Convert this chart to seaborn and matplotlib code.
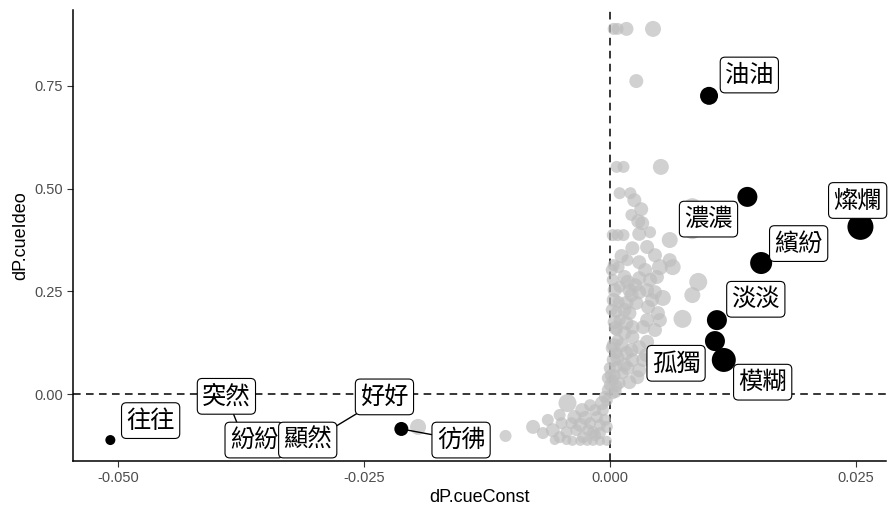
import numpy as np
import pandas as pd
import matplotlib
matplotlib.use("Agg")
import matplotlib.pyplot as plt
import seaborn as sns
from matplotlib import font_manager

# --- highlighted words -------------------------------------------------------
words = ["油油", "濃濃", "燦爛", "繽紛", "淡淡", "孤獨", "模糊",
         "往往", "突然", "紛紛", "顯然", "好好", "彷彿"]
word_const = [0.0101, 0.0140, 0.0255, 0.0154, 0.0109, 0.0107, 0.0116,
              -0.0508, -0.0373, -0.0366, -0.0303, -0.0297, -0.0212]
word_ideo = [0.726, 0.480, 0.407, 0.319, 0.180, 0.129, 0.083,
             -0.112, -0.107, -0.112, -0.112, -0.105, -0.085]
word_freq = [81, 100, 169, 121, 100, 100, 144,
             25, 36, 25, 25, 36, 49]

# --- remaining words ---------------------------------------------------------
other_const = [
    0.0004, 0.0008, 0.0017, 0.0044, 0.0027, 0.0007, 0.0014, 0.0052,
    0.0010, 0.0021, 0.0025, 0.0032, 0.0029, 0.0033, 0.0003, 0.0008,
    0.0014, 0.0030, 0.0061, 0.0084, 0.0084, 0.0023, 0.0012, 0.0038,
    0.0030, 0.0051, 0.0064, 0.0061, 0.0009, 0.0015, 0.0030, 0.0048,
    0.0010, 0.0020, 0.0038, 0.0090, 0.0084, 0.0054, 0.0009, 0.0017,
    0.0027, 0.0039, 0.0049, 0.0074, 0.0007, 0.0010, 0.0017, 0.0023,
    0.0034, 0.0038, 0.0007, 0.0015, 0.0008, 0.0023, 0.0038, 0.0030,
    0.0007, 0.0017, 0.0023, 0.0034, 0.0007, 0.0013, 0.0028, 0.0003,
    0.0010, 0.0003, -0.0003, -0.0002, -0.0005, -0.0008, -0.0007, -0.0013,
    -0.0020, -0.0028, -0.0025, -0.0043, -0.0036, -0.0039, -0.0049, -0.0034,
    -0.0044, -0.0058, -0.0051, -0.0068, -0.0078, -0.0056, -0.0044, -0.0038,
    -0.0030, -0.0023, -0.0017, -0.0010, -0.0003, -0.0017, -0.0010, -0.0005,
    -0.0003, -0.0106, -0.0195, -0.0015, 0.0000, 0.0001, 0.0004, 0.0004,
    0.0005, 0.0004, 0.0003, 0.0004, 0.0018, 0.0012, 0.0020, 0.0026,
    0.0043, 0.0046, 0.0036, 0.0018, 0.0041, 0.0022, -0.0030, -0.0020,
    0.0002, 0.0005, 0.0002, 0.0006, 0.0002, 0.0008, 0.0000, 0.0015,
    0.0022, 0.0018, 0.0030, 0.0041, 0.0046, 0.0022, 0.0015, 0.0030,
    0.0037, 0.0046, 0.0051, 0.0005, 0.0006, 0.0007, 0.0020, -0.0002,
    -0.0010, -0.0015, -0.0022, -0.0027, -0.0051, -0.0063,
]
other_ideo = [
    0.889, 0.889, 0.889, 0.889, 0.762, 0.553, 0.553, 0.553,
    0.489, 0.489, 0.472, 0.450, 0.421, 0.416, 0.387, 0.387,
    0.387, 0.390, 0.375, 0.455, 0.399, 0.355, 0.336, 0.358,
    0.321, 0.309, 0.309, 0.326, 0.309, 0.285, 0.282, 0.285,
    0.261, 0.253, 0.253, 0.273, 0.241, 0.234, 0.224, 0.222,
    0.222, 0.212, 0.197, 0.183, 0.200, 0.180, 0.173, 0.163,
    0.163, 0.180, 0.156, 0.149, 0.131, 0.139, 0.127, 0.114,
    0.100, 0.100, 0.083, 0.083, 0.066, 0.051, 0.041, 0.034,
    0.027, 0.002, -0.015, 0.010, -0.007, -0.022, -0.039, -0.056,
    -0.071, -0.039, -0.058, -0.022, -0.056, -0.071, -0.071, -0.088,
    -0.093, -0.088, -0.105, -0.095, -0.080, -0.112, -0.112, -0.114,
    -0.114, -0.114, -0.114, -0.114, -0.114, -0.093, -0.095, -0.063,
    -0.080, -0.102, -0.080, -0.039, 0.022, 0.046, 0.083, 0.119,
    0.175, 0.229, 0.278, 0.314, 0.063, 0.119, 0.197, 0.265,
    0.229, 0.338, 0.302, 0.326, 0.394, 0.436, -0.075, -0.027,
    0.302, 0.253, 0.205, 0.161, 0.112, 0.088, 0.063, 0.205,
    0.241, 0.273, 0.248, 0.278, 0.248, 0.107, 0.071, 0.058,
    0.095, 0.156, 0.180, 0.046, 0.005, 0.019, 0.029, 0.039,
    -0.075, -0.100, -0.088, -0.105, -0.051, -0.063,
]
other_freq = [
    36, 36, 49, 64, 49, 36, 36, 64,
    36, 36, 49, 49, 49, 49, 36, 36,
    36, 49, 64, 81, 81, 49, 49, 49,
    49, 64, 64, 49, 36, 49, 49, 49,
    36, 49, 49, 81, 64, 64, 36, 49,
    49, 49, 49, 81, 36, 36, 49, 49,
    49, 49, 36, 49, 36, 49, 49, 49,
    36, 49, 49, 49, 36, 36, 49, 36,
    36, 36, 36, 36, 36, 49, 36, 36,
    36, 49, 49, 81, 49, 36, 36, 36,
    36, 49, 36, 36, 49, 25, 25, 25,
    25, 25, 25, 25, 25, 36, 36, 36,
    36, 36, 64, 36, 36, 36, 49, 49,
    49, 49, 36, 36, 49, 49, 49, 49,
    49, 49, 49, 36, 36, 36, 49, 36,
    36, 49, 36, 49, 36, 49, 36, 49,
    49, 49, 49, 49, 49, 49, 49, 49,
    49, 49, 49, 36, 36, 36, 49, 36,
    36, 36, 36, 36, 36, 36,
]

x_ticks = [-0.050, -0.025, 0.000, 0.025]
x_ticklabels = ["-0.050", "-0.025", "0.000", "0.025"]
y_ticks = [0.00, 0.25, 0.50, 0.75]
y_ticklabels = ["0.00", "0.25", "0.50", "0.75"]

# label placement (offset of each label box from its point, in points)
label_offsets = {
    "油油": (29, 15), "濃濃": (-28, -16), "燦爛": (-2, 19), "繽紛": (27, 14),
    "淡淡": (28, 15), "孤獨": (-28, -16), "模糊": (28, -16), "往往": (29, 14),
    "突然": (-12, 30), "紛紛": (3, 0), "顯然": (-3, 0), "好好": (48, 29),
    "彷彿": (43, -8),
}
with_segment = {"突然", "好好", "彷彿"}
draw_order = ["油油", "濃濃", "燦爛", "繽紛", "淡淡", "孤獨", "模糊",
              "往往", "彷彿", "突然", "好好", "紛紛", "顯然"]

words_df = pd.DataFrame({"dP.cueConst": word_const, "dP.cueIdeo": word_ideo,
                         "freq": word_freq, "word": words})
others_df = pd.DataFrame({"dP.cueConst": other_const, "dP.cueIdeo": other_ideo,
                          "freq": other_freq})

sns.set_theme(style="ticks")
available = {f.name for f in font_manager.fontManager.ttflist}
latin = "Liberation Sans Narrow" if "Liberation Sans Narrow" in available else "Liberation Sans"
plt.rcParams["font.family"] = [latin, "DejaVu Sans"]
cjk = ["Noto Sans CJK TC", "DejaVu Sans"]

fig = plt.figure(figsize=(8.88, 5.12), dpi=100)
ax = fig.add_axes([73 / 888, 51 / 512, (886 - 73) / 888, (461 - 10) / 512])

# marker area in pt^2 proportional to freq (freq = radius^2 in px)
size_norm = (0, 169)
size_range = (0, 2.0736 * 169)

sns.scatterplot(data=others_df, x="dP.cueConst", y="dP.cueIdeo", size="freq",
                size_norm=size_norm, sizes=size_range, color="#bebebe",
                alpha=0.7, linewidth=0, legend=False, ax=ax, zorder=2)
sns.scatterplot(data=words_df, x="dP.cueConst", y="dP.cueIdeo", size="freq",
                size_norm=size_norm, sizes=size_range, color="black",
                linewidth=0, legend=False, ax=ax, zorder=3)

ax.axhline(0, color="black", lw=1.1, dashes=(5, 3.5), zorder=1)
ax.axvline(0, color="black", lw=1.1, dashes=(5, 3.5), zorder=1)

lookup = words_df.set_index("word")
for i, w in enumerate(draw_order):
    row = lookup.loc[w]
    arrow = None
    if w in with_segment:
        r_pt = np.sqrt(row["freq"]) / 1.389
        arrow = dict(arrowstyle="-", color="black", lw=1.0,
                     shrinkA=0, shrinkB=r_pt * 0.5)
    ax.annotate(w, xy=(row["dP.cueConst"], row["dP.cueIdeo"]),
                xytext=label_offsets[w], textcoords="offset points",
                ha="center", va="center", fontsize=17.5, family=cjk,
                color="black", zorder=5 + i, annotation_clip=False,
                bbox=dict(boxstyle="round,pad=0.2,rounding_size=0.2",
                          fc="white", ec="black", lw=0.8),
                arrowprops=arrow)

ax.set_xlim(-0.0546, 0.0281)
ax.set_ylim(-0.163, 0.935)
ax.set_xticks(x_ticks)
ax.set_xticklabels(x_ticklabels)
ax.set_yticks(y_ticks)
ax.set_yticklabels(y_ticklabels)
ax.tick_params(axis="both", direction="out", length=4, width=0.8,
               color="#333333", labelcolor="#4d4d4d", labelsize=10.5, pad=3)
ax.set_xlabel("dP.cueConst", fontsize=13, color="black", labelpad=3)
ax.set_ylabel("dP.cueIdeo", fontsize=13, color="black", labelpad=4)
for side in ["top", "right"]:
    ax.spines[side].set_visible(False)
for side in ["left", "bottom"]:
    ax.spines[side].set_color("black")
    ax.spines[side].set_linewidth(1.1)

fig.savefig("out.png", dpi=100)
